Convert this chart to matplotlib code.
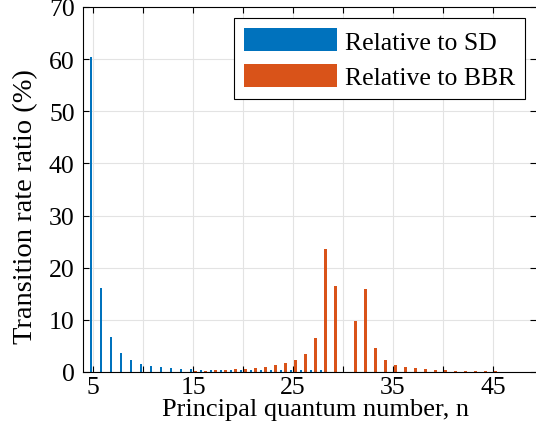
import matplotlib.pyplot as plt
import numpy as np

# principal quantum numbers
n = np.arange(5, 50)

# transition rate ratio (%) relative to spontaneous decay
sd = [60.5, 16.2, 6.8, 3.7, 2.3, 1.6, 1.15, 0.9, 0.7, 0.6,
      0.5, 0.45, 0.42, 0.4, 0.38, 0.36, 0.35, 0.34, 0.33, 0.33,
      0.34, 0.36, 0.38, 0.3, 0.0, 0.0, 0.0, 0.0, 0.0, 0.0,
      0.0, 0.0, 0.0, 0.0, 0.0, 0.0, 0.0, 0.0, 0.0, 0.0,
      0.0, 0.0, 0.0, 0.0, 0.0]

# transition rate ratio (%) relative to black-body radiation
bbr = [0.0, 0.0, 0.0, 0.0, 0.0, 0.0, 0.0, 0.0, 0.0, 0.05,
       0.2, 0.25, 0.3, 0.4, 0.5, 0.65, 0.85, 1.0, 1.3, 1.7,
       2.25, 3.5, 6.6, 23.6, 16.4, 0.0, 9.8, 15.9, 4.55, 2.25,
       1.4, 1.0, 0.7, 0.5, 0.45, 0.3, 0.25, 0.2, 0.15, 0.12,
       0.1, 0.08, 0.06, 0.05, 0.04]

xticks = np.arange(5, 50, 5)
xlabels = [str(t) if t % 10 == 5 else '' for t in xticks]

plt.rcParams['font.family'] = ['Liberation Serif', 'DejaVu Serif']

fig = plt.figure(figsize=(5.36, 4.35), dpi=100)
ax = fig.add_axes([83/536, 1 - 373/435, 453/536, 365/435])

w = 0.24
ax.bar(n - 0.23, sd, width=w, color='#0072BD', label='Relative to SD', zorder=3)
ax.bar(n + 0.23, bbr, width=w, color='#D95319', label='Relative to BBR', zorder=3)

ax.set_xlim(4, 49.3)
ax.set_ylim(0, 70)
ax.set_xticks(xticks)
ax.set_xticklabels(xlabels)
ax.set_yticks(np.arange(0, 71, 10))
ax.grid(True, color='#e3e3e3', linewidth=0.8, zorder=0)
ax.tick_params(direction='in', top=True, right=True, labelsize=18.5, length=4)
ax.tick_params(axis='x', pad=3)
ax.tick_params(axis='y', pad=6)
for s in ax.spines.values():
    s.set_linewidth(0.8)
    s.set_zorder(4)
ax.spines['right'].set_visible(False)

ax.set_xlabel('Principal quantum number, n', fontsize=19)
ax.set_ylabel('Transition rate ratio (%)', fontsize=20.5)
ax.xaxis.set_label_coords(0.514, -0.07)
ax.yaxis.set_label_coords(-0.1, 0.456)

leg = ax.legend(loc='upper right', bbox_to_anchor=(0.976, 0.970), borderaxespad=0,
                fontsize=18.5, fancybox=False, edgecolor='black',
                framealpha=1, handlelength=3.6, handleheight=1.0, handletextpad=0.3,
                borderpad=0.4, labelspacing=0.4)
leg.get_frame().set_linewidth(0.8)

plt.savefig('out.png', dpi=100)
